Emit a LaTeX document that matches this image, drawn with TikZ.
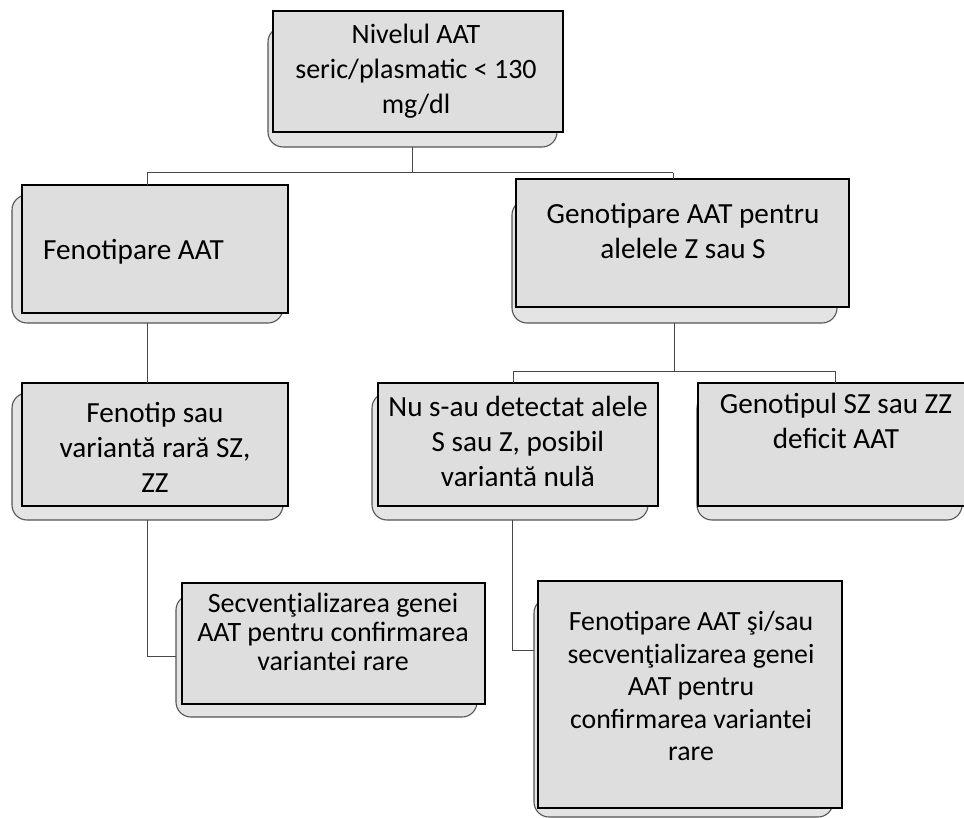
\documentclass[tikz,border=0pt]{standalone}
\usepackage{fontspec}
\setmainfont{Carlito}
\definecolor{frontfill}{RGB}{222,222,222}
\definecolor{backfill}{RGB}{228,228,228}
\definecolor{backline}{RGB}{85,85,85}
\definecolor{connline}{RGB}{70,70,70}
\tikzset{
  frontbox/.style={draw=black, fill=frontfill, line width=1.8pt, inner sep=0pt, outer sep=0pt},
  backbox/.style={draw=backline, fill=backfill, line width=1.1pt, rounded corners=15pt, inner sep=0pt, outer sep=0pt},
  conn/.style={draw=connline, line width=1pt},
  txt/.style={align=center, inner sep=0pt, font=\fontsize{29.2}{35}\selectfont},
}
\newcommand\mkbox[9]{%
  \node[backbox, minimum width={#8-#6}, minimum height={#9-#7}] (#1b) at ({(#6+#8)/2},{(#7+#9)/2}) {};
  \node[frontbox, minimum width={#4-#2}, minimum height={#5-#3}] (#1) at ({(#2+#4)/2},{(#3+#5)/2}) {};
}
\begin{document}
\begin{tikzpicture}[x=1pt,y=-1pt]
\useasboundingbox[fill=white] (0,0) rectangle (964,818);
% boxes
\mkbox{b1}{273}{11}{563}{132}{268}{27}{557}{147}
\mkbox{b2}{22}{185}{288}{313}{12}{195}{283}{323}
\mkbox{b3}{516}{179}{849}{307}{512}{200}{837}{323}
\mkbox{b4}{22}{383}{288}{506}{12}{393}{283}{520}
\mkbox{b5}{378}{383}{658}{506}{372}{393}{648}{520}
\mkbox{b6}{698}{383}{968}{506}{697}{393}{962}{520}
\mkbox{b7}{182}{583}{485}{704}{176}{595}{477}{717}
\mkbox{b8}{538}{581}{842}{808}{534}{598}{833}{817}
% texts
\node[txt, font=\fontsize{28}{35}\selectfont] (t1) at (416,71) {Nivelul AAT\\seric/plasmatic < 130\\mg/dl};
\node[txt, anchor=west] (t2) at (43,252) {Fenotipare AAT};
\node[txt] (t3) at (683,231) {Genotipare AAT pentru\\alelele Z sau S};
\node[txt] (t4) at (155,447) {Fenotip sau\\variantă rară SZ,\\ZZ};
\node[txt] (t5) at (518,441) {Nu s-au detectat alele\\S sau Z, posibil\\variantă nulă};
\node[txt] (t6) at (836,421) {Genotipul SZ sau ZZ\\deficit AAT};
\node[txt, font=\fontsize{28}{29}\selectfont] (t7) at (333,632) {Secvenţializarea genei\\AAT pentru confirmarea\\variantei rare};
\node[txt, font=\fontsize{27.8}{32.5}\selectfont] (t8) at (691,686) {Fenotipare AAT şi/sau\\secvenţializarea genei\\AAT pentru\\confirmarea variantei\\rare};
% junction coordinates
\coordinate (j1) at (413,173);
\coordinate (j1l) at (147,173);
\coordinate (j1r) at (673,173);
\coordinate (j2) at (675,371);
\coordinate (j2l) at (513,371);
\coordinate (j2r) at (835,371);
\coordinate (c5) at (512,520);
\coordinate (c8) at (534,650);
% connectors
\draw[conn] (b1b.south) -- (b1b.south |- j1);
\draw[conn] (j1l) -- (j1r);
\draw[conn] (j1l) -- (j1l |- b2.north);
\draw[conn] (j1r) -- (j1r |- b3.north);
\draw[conn] (b2b.south) -- (b2b.south |- b4.north);
\draw[conn] (b4b.south) |- (b7b.west);
\draw[conn] (b3b.south) -- (b3b.south |- j2);
\draw[conn] (j2l) -- (j2r);
\draw[conn] (j2l) -- (j2l |- b5.north);
\draw[conn] (j2r) -- (j2r |- b6.north);
\draw[conn] (c5) |- (c8);
\end{tikzpicture}
\end{document}
